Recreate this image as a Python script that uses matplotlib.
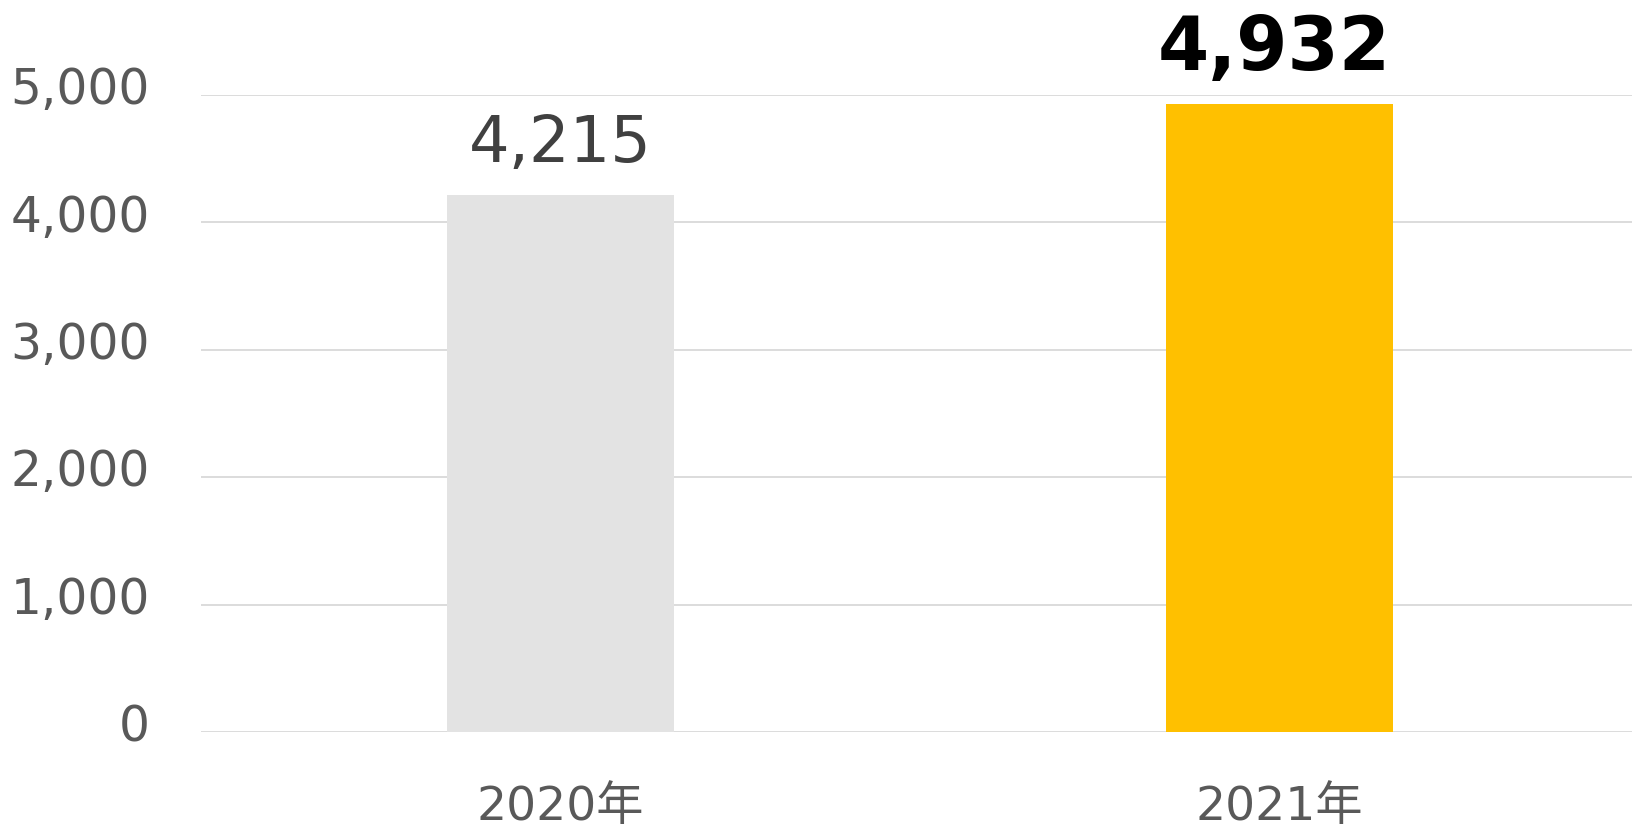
import numpy as np
import matplotlib.pyplot as plt
import matplotlib.transforms as mtransforms

plt.rcParams['font.family'] = ['DejaVu Sans', 'Noto Sans CJK JP']

years = ['2020年', '2021年']
values = [4215, 4932]
bar_colors = ['#E3E3E3', '#FFC000']
yticks = [0, 1000, 2000, 3000, 4000, 5000]

fig = plt.figure(figsize=(16.32, 8.31), dpi=100)
ax = fig.add_axes([0.1232, 0.1191, 0.8768, 0.7666])

x = np.arange(len(years))
ax.bar(x, values, width=0.316, color=bar_colors, zorder=2)

ax.set_xlim(-0.5, 1.49)
ax.set_ylim(0, 5000)
ax.set_yticks(yticks)
ax.set_yticklabels([f'{v:,}' for v in yticks])
ax.set_xticks(x)
ax.set_xticklabels(years)
ax.grid(axis='y', color='#D9D9D9', linewidth=1.3, zorder=0)
ax.set_axisbelow(True)
for s in ax.spines.values():
    s.set_visible(False)
ax.tick_params(axis='y', length=0, pad=37, labelsize=35, labelcolor='#595959')
ax.tick_params(axis='x', length=0, pad=38, labelsize=34, labelcolor='#595959')

# y labels sit a bit above the gridlines
shift = mtransforms.ScaledTranslation(0, 7 / 72, fig.dpi_scale_trans)
for lbl in ax.get_yticklabels():
    lbl.set_transform(lbl.get_transform() + shift)

# data labels
ax.annotate(f'{values[0]:,}', (x[0], values[0]), xytext=(0, 24), textcoords='offset points',
            ha='center', va='baseline', fontsize=46, color='#404040', annotation_clip=False)
ax.annotate(f'{values[1]:,}', (x[1], values[1]), xytext=(-4, 24), textcoords='offset points',
            ha='center', va='baseline', fontsize=53, fontweight='bold', color='black',
            annotation_clip=False)

fig.savefig('out.png', dpi=100)
